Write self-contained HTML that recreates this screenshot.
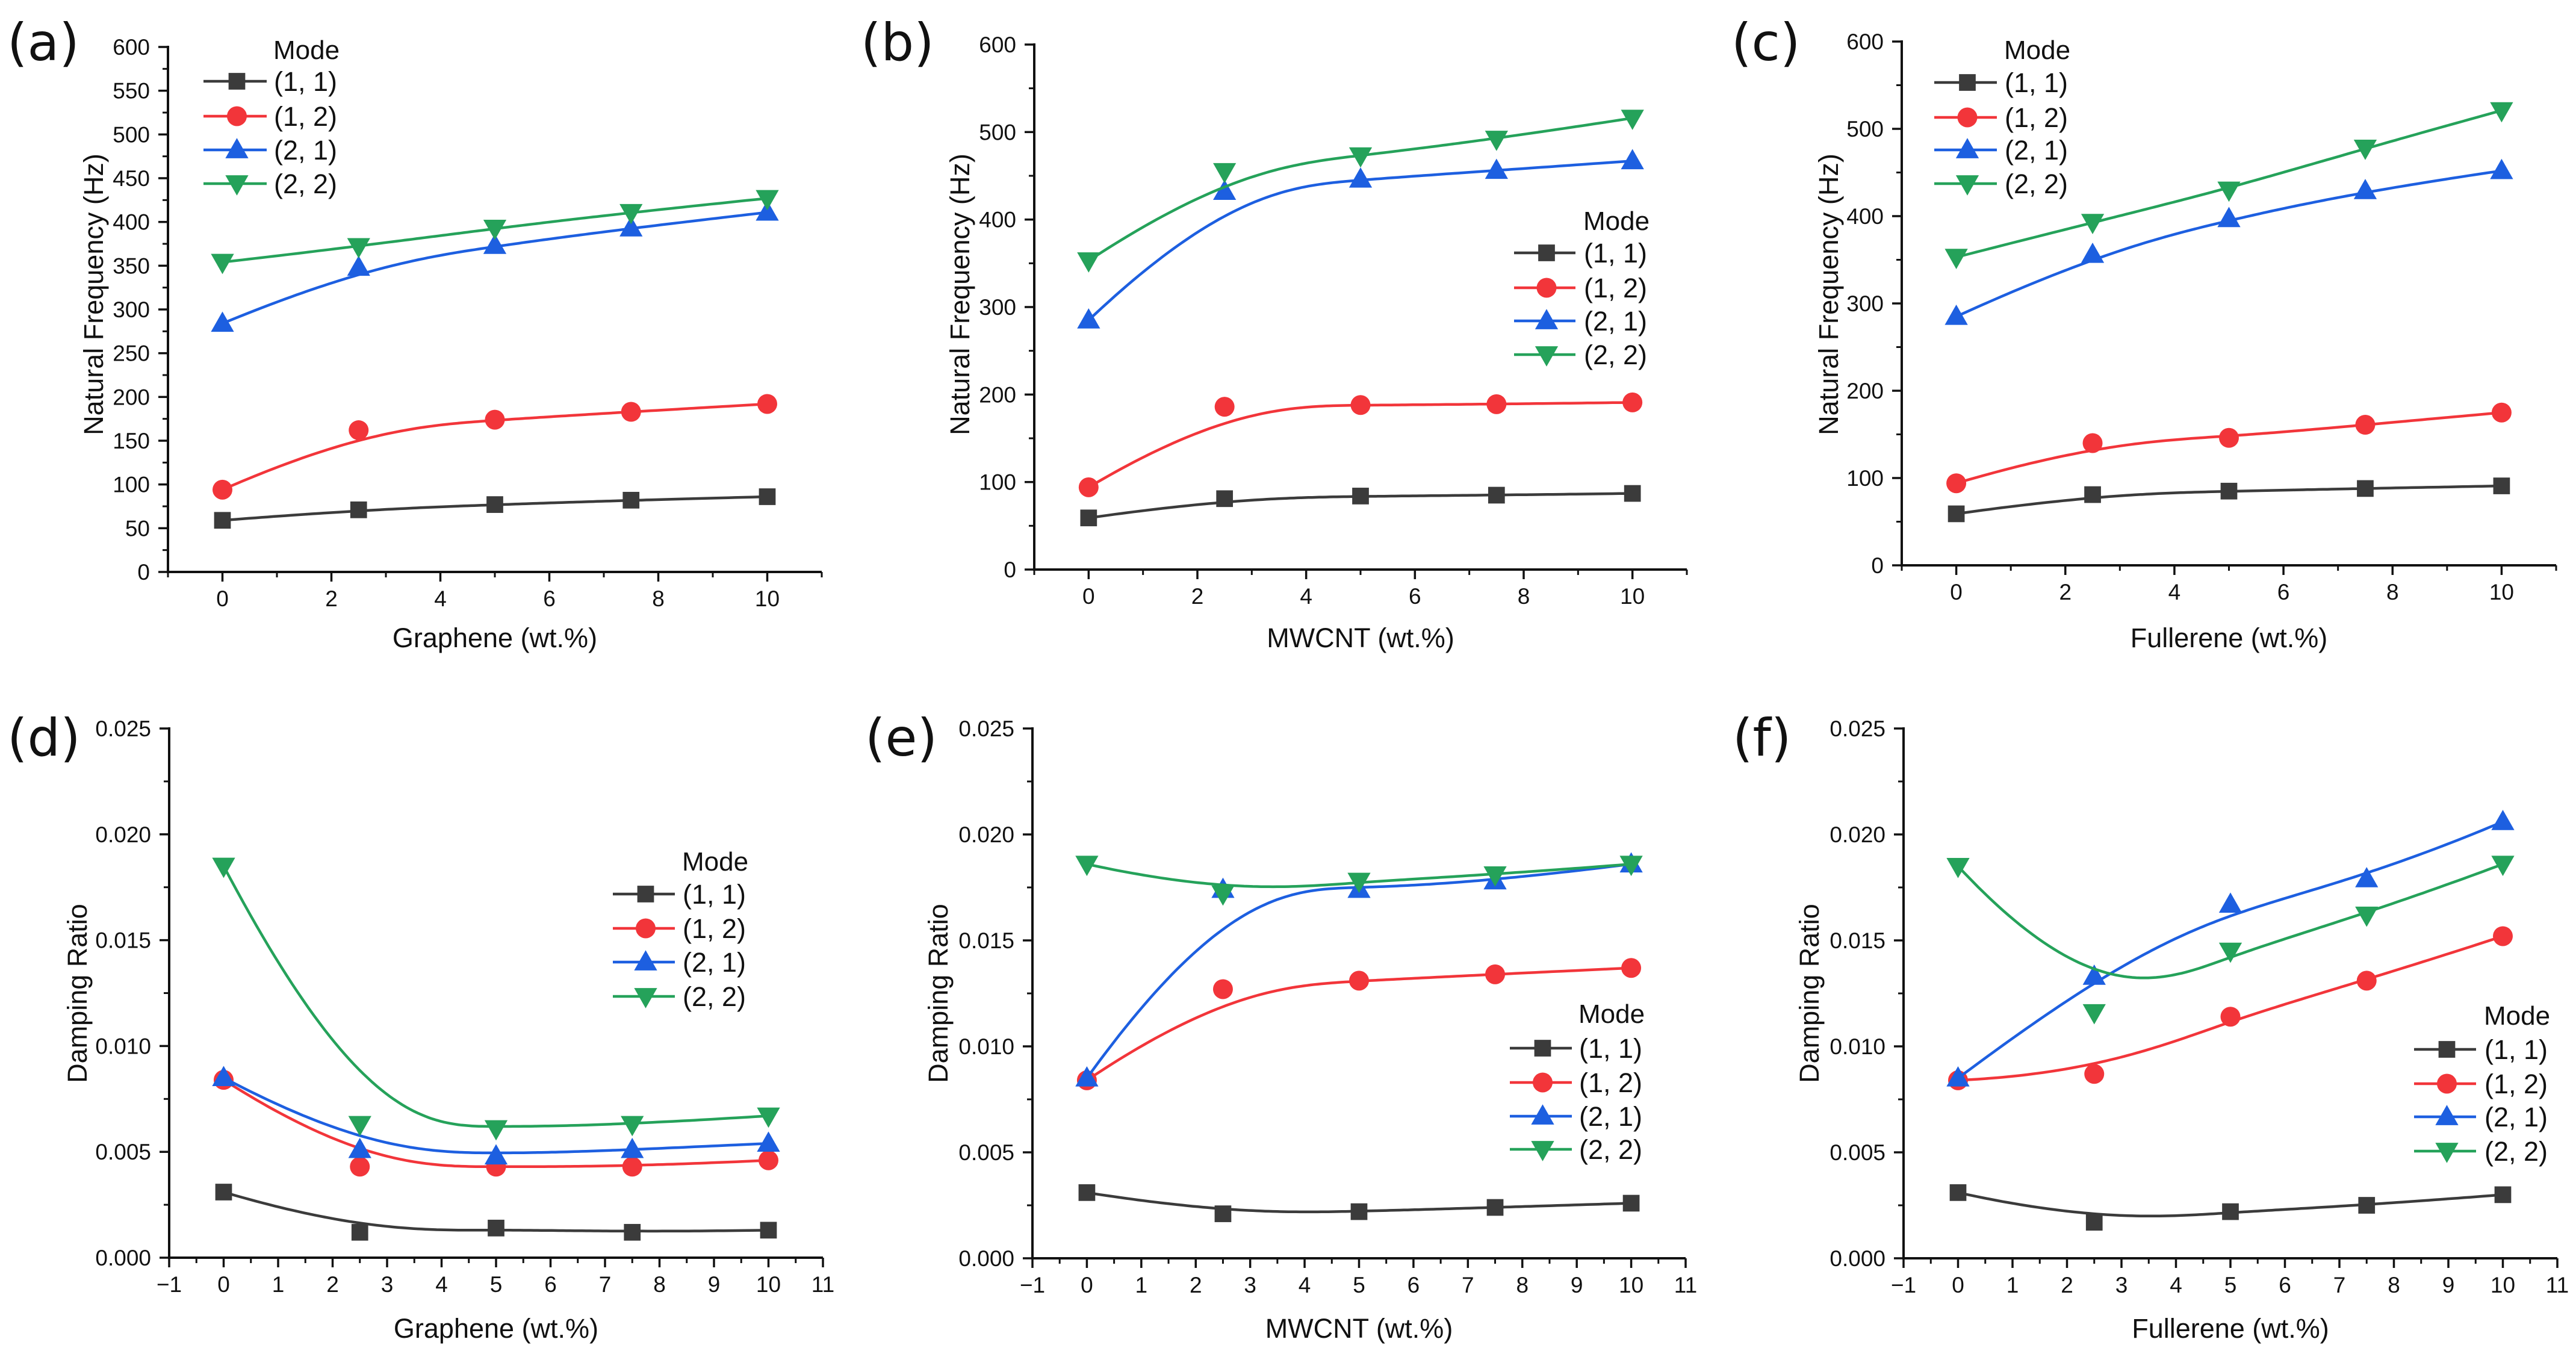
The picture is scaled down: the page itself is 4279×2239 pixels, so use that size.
<!DOCTYPE html>
<html><head><meta charset="utf-8"><style>
html,body{margin:0;padding:0;background:#fff;}
svg{display:block;font-family:"Liberation Sans",Arial,sans-serif;}
</style></head>
<body>
<svg id="fig" width="4279" height="2239" viewBox="0 0 4279 2239" xmlns="http://www.w3.org/2000/svg"></svg>
<script>
const xCats = [0, 2.5, 5, 7.5, 10];
const seriesNames = ["(1, 1)", "(1, 2)", "(2, 1)", "(2, 2)"];
// (a) Graphene natural frequency
const aS11 = [59, 71, 77, 82, 86];
const aS12 = [94, 162, 174, 183, 192];
const aS21 = [284, 348, 373, 393, 411];
const aS22 = [354, 372, 393, 411, 427];
// (b) MWCNT natural frequency
const bS11 = [59, 81, 84, 85, 87];
const bS12 = [94, 186, 188, 189, 191];
const bS21 = [285, 432, 446, 456, 467];
const bS22 = [353, 455, 473, 492, 516];
// (c) Fullerene natural frequency
const cS11 = [59, 81, 85, 88, 91];
const cS12 = [94, 140, 146, 161, 175];
const cS21 = [285, 356, 397, 429, 452];
const cS22 = [353, 393, 430, 478, 521];
// (d) Graphene damping
const dS11 = [0.0031, 0.0012, 0.0014, 0.0012, 0.0013];
const dS12 = [0.0084, 0.0043, 0.0043, 0.0043, 0.0046];
const dS21 = [0.0085, 0.0051, 0.0048, 0.0051, 0.0054];
const dS22 = [0.0185, 0.0063, 0.0061, 0.0063, 0.0067];
// (e) MWCNT damping
const eS11 = [0.0031, 0.0021, 0.0022, 0.0024, 0.0026];
const eS12 = [0.0084, 0.0127, 0.0131, 0.0134, 0.0137];
const eS21 = [0.0085, 0.0174, 0.0174, 0.0178, 0.0186];
const eS22 = [0.0186, 0.0172, 0.0178, 0.0181, 0.0186];
// (f) Fullerene damping
const fS11 = [0.0031, 0.0017, 0.0022, 0.0025, 0.0030];
const fS12 = [0.0084, 0.0087, 0.0114, 0.0131, 0.0152];
const fS21 = [0.0085, 0.0133, 0.0167, 0.0179, 0.0206];
const fS22 = [0.0185, 0.0116, 0.0145, 0.0162, 0.0186];
const freqTicksA = ["0","50","100","150","200","250","300","350","400","450","500","550","600"];
const freqTicksB = ["0","100","200","300","400","500","600"];
const dampTicks = ["0.000","0.005","0.010","0.015","0.020","0.025"];
const xTicksTop = ["0","2","4","6","8","10"];
const xTicksBottom = ["−1","0","1","2","3","4","5","6","7","8","9","10","11"];

const NS = "http://www.w3.org/2000/svg";
const svg = document.getElementById('fig');
const colors = ["#3b3b3b", "#f2353a", "#1d5fe0", "#25a25a"];
const markerTypes = ["square", "circle", "up", "down"];

function mk(tag, attrs, parent) {
  const e = document.createElementNS(NS, tag);
  for (const k in attrs) e.setAttribute(k, attrs[k]);
  (parent || svg).appendChild(e);
  return e;
}

function bspline(pts, n) {
  const k = [0,0,0,0];
  const m = pts.length - 3;
  for (let i = 1; i < m; i++) k.push(i);
  k.push(m,m,m,m);
  function N(i, p, t) {
    if (p === 0) {
      if (t >= k[i] && t < k[i+1]) return 1;
      if (t === m && k[i+1] === m && k[i] < m) return 1;
      return 0;
    }
    let a = 0, b = 0;
    const d1 = k[i+p] - k[i], d2 = k[i+p+1] - k[i+1];
    if (d1 > 0) a = (t - k[i]) / d1 * N(i, p-1, t);
    if (d2 > 0) b = (k[i+p+1] - t) / d2 * N(i+1, p-1, t);
    return a + b;
  }
  const out = [];
  for (let s = 0; s <= n; s++) {
    const t = m * s / n;
    let x = 0, y = 0;
    for (let i = 0; i < pts.length; i++) { const w = N(i, 3, t); x += w*pts[i][0]; y += w*pts[i][1]; }
    out.push([x, y]);
  }
  return out;
}

function drawMarker(g, type, cx, cy, color, s) {
  let el;
  if (type === "square") el = mk('rect', {x: cx - s*0.42, y: cy - s*0.42, width: s*0.84, height: s*0.84, fill: color}, g);
  else if (type === "circle") el = mk('circle', {cx: cx, cy: cy, r: s*0.5, fill: color}, g);
  else if (type === "up") el = mk('polygon', {points: `${cx},${cy - s*0.6} ${cx - s*0.58},${cy + s*0.42} ${cx + s*0.58},${cy + s*0.42}`, fill: color}, g);
  else el = mk('polygon', {points: `${cx},${cy + s*0.6} ${cx - s*0.58},${cy - s*0.42} ${cx + s*0.58},${cy - s*0.42}`, fill: color}, g);
  return el;
}

function panel(p) {
  const g = mk('g', {});
  
  
  const xs = v => p.x0 + (v - p.xmin) / (p.xmax - p.xmin) * (p.x1 - p.x0);
  const ys = v => p.y0 - (v - p.ymin) / (p.ymax - p.ymin) * (p.y0 - p.y1);
  // panel label
  const lab = mk('text', {x: p.labX, y: p.labY, 'font-size': 86, fill: '#111', 'font-family': '"DejaVu Sans","Liberation Sans",sans-serif'}, g);
  lab.textContent = '(' + p.id + ')';
  
  
  // axes
  const ax = mk('path', {d: `M${p.x0},${p.y1 - 2}V${p.y0}H${p.x1}`, stroke: '#111', 'stroke-width': 4, fill: 'none'}, g);
  
  
  // y ticks
  const nY = p.yLabels.length;
  for (let i = 0; i < nY; i++) {
    const v = p.ymin + i * p.yStep;
    const y = ys(v);
    mk('line', {x1: p.x0 - 16, y1: y, x2: p.x0, y2: y, stroke: '#111', 'stroke-width': 3.5}, g);
    if (i < nY - 1) { const ym = ys(v + p.yStep/2); mk('line', {x1: p.x0 - 9, y1: ym, x2: p.x0, y2: ym, stroke: '#111', 'stroke-width': 3}, g); }
    const t = mk('text', {x: p.x0 - 30, y: y + 13, 'font-size': 37, 'text-anchor': 'end', fill: '#111'}, g);
    t.textContent = p.yLabels[i];
    
    
  }
  // x ticks
  for (let v = -1; v <= 11.001; v += 0.5) {
    const x = xs(v);
    const isInt = Math.abs(v - Math.round(v)) < 1e-6;
    const major = p.xMajorStep === 1 ? isInt : (isInt && Math.round(v) % 2 === 0);
    if (!isInt && p.xMajorStep === 2) continue;
    mk('line', {x1: x, y1: p.y0, x2: x, y2: p.y0 + (major ? 16 : 9), stroke: '#111', 'stroke-width': major ? 3.5 : 3}, g);
  }
  p.xLabels.forEach(s => {
    const v = parseFloat(s.replace('−', '-'));
    const t = mk('text', {x: xs(v), y: p.y0 + 57, 'font-size': 37, 'text-anchor': 'middle', fill: '#111'}, g);
    t.textContent = s;
    
    
  });
  // titles
  const xt = mk('text', {x: xs(5), y: p.xTitleY, 'font-size': 45, 'text-anchor': 'middle', fill: '#111'}, g);
  xt.textContent = p.xTitle;
  
  
  const yt = mk('text', {x: 0, y: 0, 'font-size': 45, 'text-anchor': 'middle', fill: '#111', transform: `translate(${p.yTitleX + 16},${p.yTitleY}) rotate(-90)`}, g);
  yt.textContent = p.yTitle;
  
  
  // series
  p.series.forEach((vals, si) => {
    const sg = mk('g', {}, g);
    
    
    const pts = vals.map((v, i) => [xs(xCats[i]), ys(v)]);
    const curve = bspline(pts, 120);
    const line = mk('path', {d: 'M' + curve.map(c => c[0].toFixed(1) + ',' + c[1].toFixed(1)).join('L'), stroke: colors[si], 'stroke-width': 4.5, fill: 'none'}, sg);
    
    
    pts.forEach(pt => {
      const m = drawMarker(sg, markerTypes[si], pt[0], pt[1], colors[si], 33);
      
      
    });
  });
  // legend
  const lg = mk('g', {}, g);
  
  
  const mt = mk('text', {x: p.leg.textX - 1, y: p.leg.modeY, 'font-size': 44, fill: '#111'}, lg);
  mt.textContent = 'Mode';
  
  
  p.leg.rows.forEach((ry, si) => {
    const eg = mk('g', {}, lg);
    
    
    mk('line', {x1: p.leg.l0, y1: ry, x2: p.leg.l1, y2: ry, stroke: colors[si], 'stroke-width': 4.5}, eg);
    drawMarker(eg, markerTypes[si], (p.leg.l0 + p.leg.l1)/2 + 3, ry, colors[si], 33);
    const t = mk('text', {x: p.leg.textX, y: ry + 16, 'font-size': 45, fill: '#111'}, eg);
    t.textContent = seriesNames[si];
  });
}

const topCommon = {xmin: -1, xmax: 11, ymin: 0, xMajorStep: 2, xLabels: xTicksTop, yTitle: 'Natural Frequency (Hz)', yTitleY: 489, xTitleY: 1075, labY: 100};
const botCommon = {xmin: -1, xmax: 11, ymin: 0, ymax: 0.025, yStep: 0.005, xMajorStep: 1, xLabels: xTicksBottom, yTitle: 'Damping Ratio', yTitleY: 1650, xTitleY: 2222, labY: 1255, yLabels: dampTicks};

panel(Object.assign({}, topCommon, {id: 'a', x0: 279, x1: 1365, y0: 950, y1: 78, ymax: 600, yStep: 50, yLabels: freqTicksA,
  xTitle: 'Graphene (wt.%)', yTitleX: 155, labX: 12, series: [aS11, aS12, aS21, aS22],
  leg: {modeY: 98, rows: [135, 193, 249, 305], l0: 338, l1: 443, textX: 455}}));
panel(Object.assign({}, topCommon, {id: 'b', x0: 1718, x1: 2802, y0: 946, y1: 74, ymax: 600, yStep: 100, yLabels: freqTicksB,
  xTitle: 'MWCNT (wt.%)', yTitleX: 1594, labX: 1430, series: [bS11, bS12, bS21, bS22],
  leg: {modeY: 382, rows: [420, 478, 533, 589], l0: 2515, l1: 2617, textX: 2631}}));
panel(Object.assign({}, topCommon, {id: 'c', x0: 3159, x1: 4246, y0: 939, y1: 69, ymax: 600, yStep: 100, yLabels: freqTicksB,
  xTitle: 'Fullerene (wt.%)', yTitleX: 3037, labX: 2876, series: [cS11, cS12, cS21, cS22],
  leg: {modeY: 98, rows: [137, 195, 249, 305], l0: 3213, l1: 3317, textX: 3330}}));
panel(Object.assign({}, botCommon, {id: 'd', x0: 281, x1: 1367, y0: 2089, y1: 1210,
  xTitle: 'Graphene (wt.%)', yTitleX: 128, labX: 12, series: [dS11, dS12, dS21, dS22],
  leg: {modeY: 1446, rows: [1485, 1542, 1598, 1655], l0: 1018, l1: 1121, textX: 1134}}));
panel(Object.assign({}, botCommon, {id: 'e', x0: 1715, x1: 2800, y0: 2090, y1: 1210,
  xTitle: 'MWCNT (wt.%)', yTitleX: 1558, labX: 1437, series: [eS11, eS12, eS21, eS22],
  leg: {modeY: 1699, rows: [1741, 1798, 1854, 1909], l0: 2508, l1: 2611, textX: 2623}}));
panel(Object.assign({}, botCommon, {id: 'f', x0: 3162, x1: 4248, y0: 2090, y1: 1210,
  xTitle: 'Fullerene (wt.%)', yTitleX: 3005, labX: 2878, series: [fS11, fS12, fS21, fS22],
  leg: {modeY: 1702, rows: [1743, 1800, 1855, 1912], l0: 4010, l1: 4113, textX: 4127}}));
</script>
</body></html>
